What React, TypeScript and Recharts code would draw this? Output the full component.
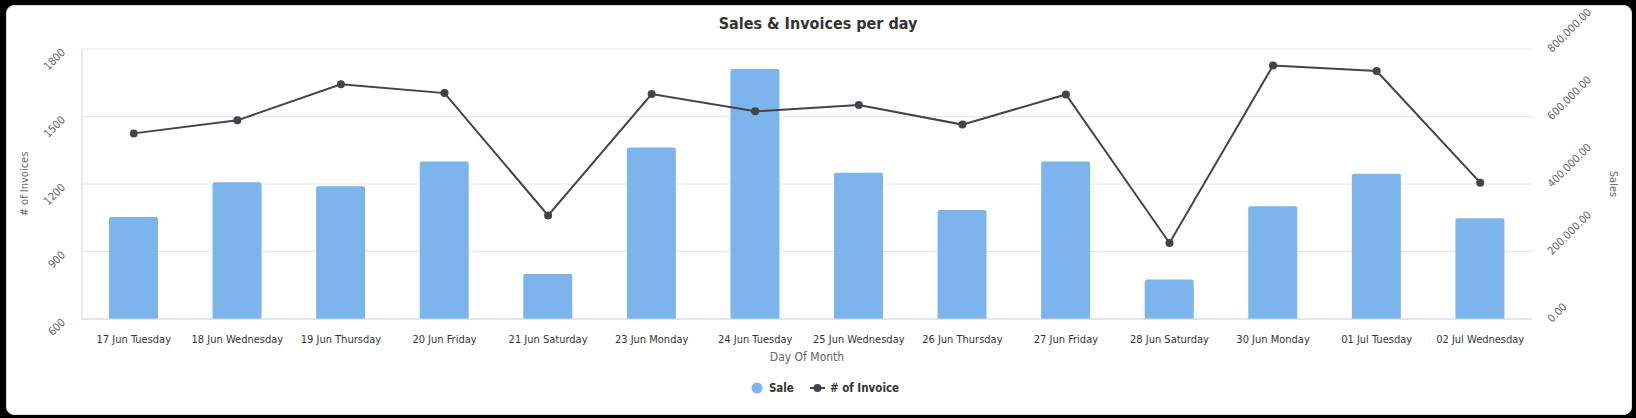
import { ComposedChart, Bar, Line, XAxis, YAxis, CartesianGrid, Legend, Label } from 'recharts'

const days = [
  '17 Jun Tuesday',
  '18 Jun Wednesday',
  '19 Jun Thursday',
  '20 Jun Friday',
  '21 Jun Saturday',
  '23 Jun Monday',
  '24 Jun Tuesday',
  '25 Jun Wednesday',
  '26 Jun Thursday',
  '27 Jun Friday',
  '28 Jun Saturday',
  '30 Jun Monday',
  '01 Jul Tuesday',
  '02 Jul Wednesday'
]
const sales = [302400, 405100, 393200, 466300, 133500, 508200, 741000, 433400, 323100, 466800, 117400, 334200, 430500, 298300]
const invoices = [1425, 1483, 1643, 1604, 1060, 1600, 1523, 1551, 1464, 1598, 938, 1727, 1702, 1206]
const invoiceTicks = [600, 900, 1200, 1500, 1800]
const salesTicks = [0, 200000, 400000, 600000, 800000]

const data = days.map((d, i) => ({ day: d, sale: sales[i], invoice: invoices[i] }))

const FONT = "Tahoma, 'DejaVu Sans Condensed', 'DejaVu Sans', sans-serif"
const BLUE = '#7cb5ec'
const DARK = '#434348'

const fmtSales = (v: number) =>
  v.toLocaleString('en-US', { minimumFractionDigits: 2, maximumFractionDigits: 2 })

function LeftTick(props: any) {
  const { x, y, payload } = props
  const ax = x - 8
  const ay = y + 4
  return (
    <text x={ax} y={ay} textAnchor="end" fontSize={11} fill="#666" fontFamily={FONT} transform={`rotate(-45, ${ax}, ${ay})`}>
      {payload.value}
    </text>
  )
}

function RightTick(props: any) {
  const { x, y, payload } = props
  const ax = x + 12
  const ay = y + 4
  return (
    <text x={ax} y={ay} textAnchor="start" fontSize={11} fill="#666" fontFamily={FONT} transform={`rotate(-45, ${ax}, ${ay})`}>
      {fmtSales(payload.value)}
    </text>
  )
}

function DayTick(props: any) {
  const { x, y, payload } = props
  return (
    <text x={x} y={y + 16} textAnchor="middle" fontSize={11} fill="#333" fontFamily={FONT}>
      {payload.value}
    </text>
  )
}

function LegendBox() {
  return (
    <div style={{ display: 'flex', justifyContent: 'center', alignItems: 'center', fontFamily: FONT, fontSize: 11.5, fontWeight: 'bold', color: '#333', height: 20, paddingLeft: 14 }}>
      <svg width={12} height={12} style={{ marginRight: 6 }}>
        <circle cx={6} cy={6} r={5.5} fill={BLUE} />
      </svg>
      <span style={{ marginRight: 16 }}>Sale</span>
      <svg width={15} height={12} style={{ marginRight: 5 }}>
        <line x1={0} y1={6} x2={15} y2={6} stroke={DARK} strokeWidth={2} />
        <circle cx={7.5} cy={6} r={4} fill={DARK} />
      </svg>
      <span># of Invoice</span>
    </div>
  )
}

export default function App() {
  return (
    <div style={{ position: 'absolute', left: 0, top: 0, width: 1636, height: 418, background: '#000' }}>
      <div
        style={{
          position: 'absolute',
          left: 6,
          top: 5,
          width: 1624,
          height: 408,
          background: '#fff',
          border: '1px solid #ddd',
          borderRadius: 8
        }}
      />
      <div
        style={{
          position: 'absolute',
          left: 0,
          top: 14,
          width: 1636,
          textAlign: 'center',
          fontFamily: FONT,
          fontSize: 16,
          fontWeight: 'bold',
          color: '#333'
        }}
      >
        Sales &amp; Invoices per day
      </div>
      <div style={{ position: 'absolute', left: 0, top: 0 }}>
        <ComposedChart width={1636} height={418} data={data} margin={{ top: 49, right: 0, bottom: 39, left: 0 }}>
          <CartesianGrid yAxisId="left" vertical={false} stroke="#e6e6e6" />
          <XAxis dataKey="day" tick={<DayTick />} tickLine={false} axisLine={{ stroke: '#ccd6eb' }} height={40} interval={0}>
            <Label value="Day Of Month" position="insideBottom" offset={-2} fill="#666" fontSize={12} fontFamily={FONT} />
          </XAxis>
          <YAxis
            yAxisId="left"
            orientation="left"
            width={82}
            domain={[600, 1800]}
            ticks={invoiceTicks}
            tick={<LeftTick />}
            tickLine={false}
            axisLine={{ stroke: '#ccd6eb' }}
          >
            <Label value="# of Invoices" angle={-90} position="insideLeft" offset={24} fill="#666" fontSize={11} fontFamily={FONT} style={{ textAnchor: 'middle' }} />
          </YAxis>
          <YAxis
            yAxisId="right"
            orientation="right"
            width={104}
            domain={[0, 800000]}
            ticks={salesTicks}
            tick={<RightTick />}
            tickLine={false}
            axisLine={false}
          >
            <Label value="Sales" angle={90} position="insideRight" offset={22} fill="#666" fontSize={11} fontFamily={FONT} style={{ textAnchor: 'middle' }} />
          </YAxis>
          <Bar yAxisId="right" dataKey="sale" name="Sale" fill={BLUE} barSize={49} radius={[2, 2, 0, 0]} isAnimationActive={false} />
          <Line
            yAxisId="left"
            dataKey="invoice"
            name="# of Invoice"
            stroke={DARK}
            strokeWidth={2}
            dot={{ r: 4, fill: DARK, stroke: DARK, strokeWidth: 0 }}
            activeDot={false}
            isAnimationActive={false}
          />
          <Legend verticalAlign="bottom" height={20} content={<LegendBox />} wrapperStyle={{ bottom: 20, height: 20 }} />
        </ComposedChart>
      </div>
    </div>
  )
}
